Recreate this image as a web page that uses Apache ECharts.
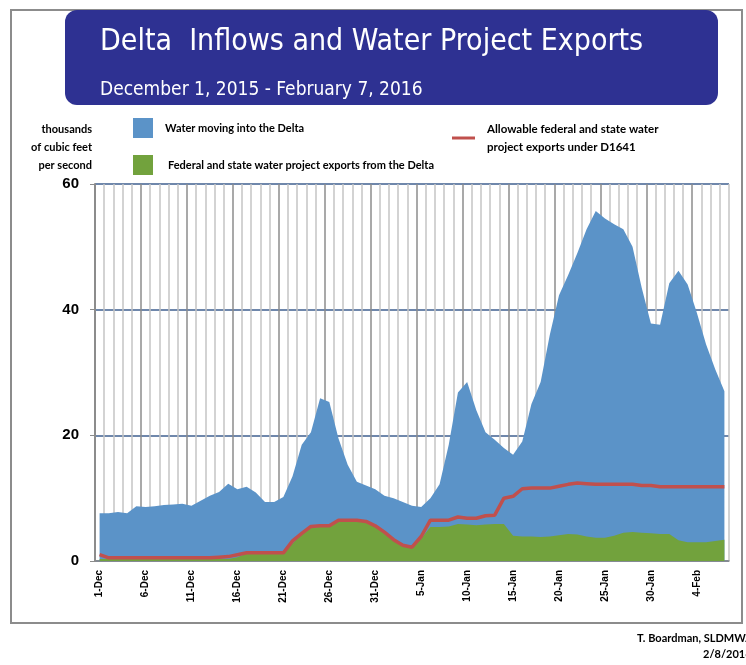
<!DOCTYPE html>
<html>
<head>
<meta charset="utf-8">
<script src="https://cdn.jsdelivr.net/npm/echarts@6/dist/echarts.min.js"></script>
<style>
  html, body { margin: 0; padding: 0; background: #fff; }
  #chart { width: 746px; height: 665px; }
</style>
</head>
<body>
<div id="chart"></div>
<script>
// dates, 1-Dec-2015 .. 7-Feb-2016
const categories = [
  '1-Dec','2-Dec','3-Dec','4-Dec','5-Dec','6-Dec','7-Dec','8-Dec','9-Dec','10-Dec',
  '11-Dec','12-Dec','13-Dec','14-Dec','15-Dec','16-Dec','17-Dec','18-Dec','19-Dec','20-Dec',
  '21-Dec','22-Dec','23-Dec','24-Dec','25-Dec','26-Dec','27-Dec','28-Dec','29-Dec','30-Dec',
  '31-Dec','1-Jan','2-Jan','3-Jan','4-Jan','5-Jan','6-Jan','7-Jan','8-Jan','9-Jan',
  '10-Jan','11-Jan','12-Jan','13-Jan','14-Jan','15-Jan','16-Jan','17-Jan','18-Jan','19-Jan',
  '20-Jan','21-Jan','22-Jan','23-Jan','24-Jan','25-Jan','26-Jan','27-Jan','28-Jan','29-Jan',
  '30-Jan','31-Jan','1-Feb','2-Feb','3-Feb','4-Feb','5-Feb','6-Feb','7-Feb'
]

// thousands of cfs
const inflow = [
  7.6, 7.6, 7.8, 7.6, 8.7, 8.6, 8.7, 8.9, 9.0, 9.1,
  8.8, 9.6, 10.4, 11.0, 12.3, 11.4, 11.8, 10.9, 9.4, 9.4,
  10.2, 13.5, 18.5, 20.5, 25.9, 25.3, 19.5, 15.3, 12.6, 12.0,
  11.4, 10.4, 10.0, 9.4, 8.8, 8.6, 10.0, 12.2, 18.5, 26.8,
  28.5, 24.0, 20.5, 19.3, 18.0, 16.9, 19.0, 25.0, 28.5, 36.0,
  42.3, 45.5, 49.0, 52.8, 55.7, 54.5, 53.6, 52.8, 50.0, 43.5,
  37.8, 37.6, 44.2, 46.2, 44.0, 39.5, 34.5, 30.5, 27.0
]

const exportsActual = [
  0.3, 0.3, 0.3, 0.3, 0.3, 0.3, 0.3, 0.3, 0.3, 0.3,
  0.3, 0.3, 0.3, 0.3, 0.3, 0.6, 1.2, 1.2, 1.2, 1.2,
  1.2, 2.8, 4.3, 5.3, 5.4, 5.4, 6.5, 6.6, 6.5, 6.2,
  5.6, 4.5, 3.3, 2.4, 2.1, 3.6, 5.4, 5.4, 5.5, 5.9,
  5.8, 5.7, 5.8, 5.9, 5.9, 4.0, 3.9, 3.9, 3.8, 3.9,
  4.1, 4.3, 4.2, 3.9, 3.7, 3.7, 4.0, 4.5, 4.6, 4.5,
  4.4, 4.3, 4.3, 3.3, 3.0, 3.0, 3.0, 3.2, 3.4
]

const exportsAllowed = [
  1.0, 0.5, 0.5, 0.5, 0.5, 0.5, 0.5, 0.5, 0.5, 0.5,
  0.5, 0.5, 0.5, 0.6, 0.7, 1.0, 1.3, 1.3, 1.3, 1.3,
  1.3, 3.2, 4.4, 5.5, 5.6, 5.6, 6.5, 6.5, 6.5, 6.3,
  5.6, 4.6, 3.4, 2.5, 2.2, 3.9, 6.5, 6.5, 6.5, 7.0,
  6.8, 6.8, 7.2, 7.3, 10.0, 10.3, 11.5, 11.6, 11.6, 11.6,
  11.9, 12.2, 12.4, 12.3, 12.2, 12.2, 12.2, 12.2, 12.2, 12.0,
  12.0, 11.8, 11.8, 11.8, 11.8, 11.8, 11.8, 11.8, 11.8
]

const COND = '"DejaVu Sans Condensed", "DejaVu Sans", sans-serif'
const SMALL = 'Lato, "DejaVu Sans Condensed", sans-serif'

const chart = echarts.init(document.getElementById('chart'))

// every 5th day line darker
const vLineColors = ['#8c8c8c', '#c4c4c4', '#c4c4c4', '#c4c4c4', '#c4c4c4']

const legendText = { fontFamily: SMALL, fontWeight: 'bold', fontSize: 11, color: '#000' }

const option = {
  animation: false,
  backgroundColor: '#fff',
  title: [
    {
      text: 'Delta  Inflows and Water Project Exports',
      left: 100,
      top: 27,
      padding: 0,
      textStyle: { color: '#fff', fontFamily: COND, fontWeight: 'normal', fontSize: 30 }
    },
    {
      text: 'December 1, 2015 - February 7, 2016',
      left: 100,
      top: 81,
      padding: 0,
      textStyle: { color: '#fff', fontFamily: COND, fontWeight: 'normal', fontSize: 19 }
    }
  ],
  legend: [
    {
      data: ['Water moving into the Delta'],
      left: 133, top: 118,
      icon: 'rect', itemWidth: 20, itemHeight: 20, padding: 0,
      textStyle: Object.assign({ padding: [0, 0, 0, 7] }, legendText)
    },
    {
      data: ['Federal and state water project exports from the Delta'],
      left: 133, top: 155,
      icon: 'rect', itemWidth: 20, itemHeight: 20, padding: 0,
      textStyle: Object.assign({ padding: [0, 0, 0, 10] }, legendText)
    },
    {
      data: ['Allowable federal and state water project exports under D1641'],
      left: 452, top: 120,
      icon: 'rect', itemWidth: 23, itemHeight: 3, padding: 0,
      formatter: () => 'Allowable federal and state water\nproject exports under D1641',
      textStyle: Object.assign({ padding: [0, 0, 0, 7], lineHeight: 18 }, legendText, { fontSize: 11.5 })
    }
  ],
  grid: { left: 95, right: 17, top: 184, bottom: 104 },
  xAxis: {
    type: 'category',
    data: categories,
    boundaryGap: true,
    axisLine: { lineStyle: { color: '#8c8c8c', width: 1.5 } },
    axisTick: { interval: 4, length: 5, lineStyle: { color: '#8c8c8c' } },
    axisLabel: {
      interval: 4, rotate: 90, margin: 9,
      fontFamily: 'Arial, sans-serif', fontWeight: 'bold', fontSize: 10, color: '#000'
    },
    splitLine: { show: true, interval: 0, lineStyle: { color: vLineColors, width: 1.5 } }
  },
  yAxis: {
    type: 'value',
    min: 0, max: 60, interval: 20,
    axisLine: { show: true, lineStyle: { color: '#8c8c8c', width: 2 } },
    axisTick: { show: true, length: 5, lineStyle: { color: '#8c8c8c' } },
    axisLabel: { margin: 16, fontFamily: 'Arial, sans-serif', fontWeight: 'bold', fontSize: 15, color: '#000' },
    splitLine: { lineStyle: { color: '#3f5f8f', width: 1.5 } }
  },
  series: [
    {
      name: 'Water moving into the Delta',
      type: 'line',
      data: inflow,
      symbol: 'none',
      lineStyle: { width: 0 },
      itemStyle: { color: '#5b93c8' },
      areaStyle: { color: '#5b93c8', opacity: 1 },
      z: 2
    },
    {
      name: 'Federal and state water project exports from the Delta',
      type: 'line',
      data: exportsActual,
      symbol: 'none',
      lineStyle: { width: 0 },
      itemStyle: { color: '#72a23d' },
      areaStyle: { color: '#72a23d', opacity: 1 },
      z: 3
    },
    {
      name: 'Allowable federal and state water project exports under D1641',
      type: 'line',
      data: exportsAllowed,
      symbol: 'none',
      itemStyle: { color: '#c0504d' },
      lineStyle: { color: '#c0504d', width: 3.5 },
      z: 4
    }
  ],
  graphic: [
    // outer frame
    { type: 'rect', z: -10, shape: { x: 11, y: 10, width: 731, height: 613 },
      style: { fill: 'none', stroke: '#8c8c8c', lineWidth: 2 } },
    // title banner
    { type: 'rect', z: -5, shape: { x: 65, y: 10, width: 653, height: 95, r: 12 },
      style: { fill: '#2e3192' } },
    // y axis unit
    { type: 'text', x: 92, y: 120,
      style: { text: 'thousands\nof cubic feet\nper second', align: 'right', lineHeight: 18,
               font: 'bold 11px ' + SMALL, fill: '#000' } },
    // source note
    { type: 'text', x: 637, y: 633,
      style: { text: 'T. Boardman, SLDMWA', font: 'bold 11px ' + SMALL, fill: '#000' } },
    { type: 'text', x: 703, y: 649,
      style: { text: '2/8/2016', font: 'bold 11px ' + SMALL, fill: '#000' } }
  ]
}

chart.setOption(option)
window.addEventListener('resize', () => {
  chart.resize()
})
</script>
</body>
</html>
